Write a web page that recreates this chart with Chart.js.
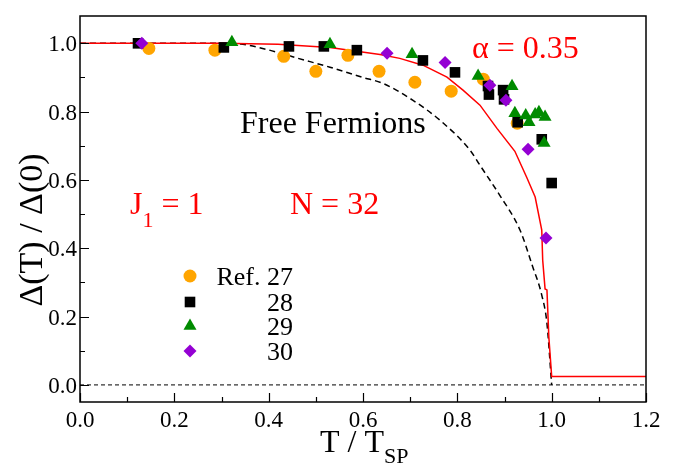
<!DOCTYPE html>
<html>
<head>
<meta charset="utf-8">
<script src="https://cdn.jsdelivr.net/npm/chart.js@4.4.1/dist/chart.umd.min.js"></script>
<style>
  body { margin: 0; background: #fff; font-family: "Liberation Serif", serif; }
  #wrap { width: 689px; height: 466px; }
  #probe { position: absolute; left: -1000px; font-family: "Liberation Serif"; }
</style>
</head>
<body>
<div id="wrap"><canvas id="myChart"></canvas></div>
<span id="probe">Δ α 0.35</span>
<script>
// alpha = 0.35 curve (red)
const alphaX = [0, 0.3, 0.42, 0.53, 0.636, 0.678, 0.727, 0.778, 0.812, 0.848, 0.884, 0.922, 0.947, 0.965, 0.979, 0.981, 0.986, 0.99, 0.994, 1.0, 1.2];
const alphaY = [1.0, 1.0, 0.997, 0.988, 0.967, 0.956, 0.936, 0.901, 0.863, 0.819, 0.751, 0.684, 0.608, 0.55, 0.453, 0.365, 0.281, 0.278, 0.14, 0.025, 0.025];

// free fermions (black dashed)
const freeX = [0, 0.3, 0.339, 0.396, 0.46, 0.53, 0.6, 0.642, 0.706, 0.763, 0.827, 0.848, 0.89, 0.933, 0.96, 0.979, 0.99, 1.0];
const freeY = [1.0, 1.0, 0.998, 0.982, 0.957, 0.93, 0.9, 0.883, 0.833, 0.775, 0.687, 0.643, 0.555, 0.453, 0.345, 0.263, 0.18, 0.0];

const zeroX = [0, 1.2];
const zeroY = [0, 0];

// Ref. 27
const ref27X = [0.146, 0.286, 0.432, 0.5, 0.568, 0.634, 0.71, 0.787, 0.855, 0.927];
const ref27Y = [0.985, 0.98, 0.962, 0.918, 0.965, 0.918, 0.886, 0.86, 0.895, 0.766];
// 28
const ref28X = [0.123, 0.305, 0.443, 0.517, 0.587, 0.727, 0.795, 0.865, 0.867, 0.897, 0.899, 0.928, 0.979, 1.0];
const ref28Y = [1.0, 0.988, 0.991, 0.991, 0.98, 0.95, 0.915, 0.875, 0.85, 0.863, 0.836, 0.769, 0.719, 0.591];
// 29
const ref29X = [0.322, 0.53, 0.704, 0.844, 0.916, 0.922, 0.945, 0.952, 0.965, 0.973, 0.986, 0.984];
const ref29Y = [1.003, 0.997, 0.968, 0.904, 0.874, 0.795, 0.789, 0.769, 0.792, 0.798, 0.784, 0.708];
// 30
const ref30X = [0.131, 0.651, 0.774, 0.869, 0.903, 0.95, 0.988];
const ref30Y = [1.0, 0.971, 0.944, 0.877, 0.833, 0.69, 0.43];

const xTicks = [0, 0.2, 0.4, 0.6, 0.8, 1.0, 1.2];
const xTickLabels = ['0.0', '0.2', '0.4', '0.6', '0.8', '1.0', '1.2'];
const yTicks = [0, 0.2, 0.4, 0.6, 0.8, 1.0];
const yTickLabels = ['0.0', '0.2', '0.4', '0.6', '0.8', '1.0'];

const legendLabels = ['Ref. 27', '28', '29', '30'];

const pts = (xs, ys) => xs.map((x, i) => ({ x: x, y: ys[i] }));

const serif = '"Liberation Serif"';
const orange = 'rgb(255,165,0)';
const green = 'rgb(0,139,0)';
const violet = 'rgb(148,0,211)';

const markers = [
    { style: 'circle', radius: 6.5, color: orange },
    { style: 'rect', radius: 7.5, color: '#000' },
    { style: 'triangle', radius: 7.5, color: green },
    { style: 'rectRot', radius: 6.5, color: violet }
];

// frame, inward ticks, tick labels and text
const decorations = {
    id: 'decorations',
    afterDraw(chart) {
        const ctx = chart.ctx;
        const a = chart.chartArea;
        const xs = chart.scales.x;
        const ys = chart.scales.y;
        ctx.save();

        ctx.strokeStyle = '#000';
        ctx.lineWidth = 1.5;
        ctx.strokeRect(a.left, a.top, a.right - a.left, a.bottom - a.top);

        ctx.lineWidth = 1.2;
        ctx.beginPath();
        for (let i = 0; i <= 12; i++) {
            const px = Math.round(xs.getPixelForValue(i / 10)) + 0.5;
            const len = i % 2 === 0 ? 9 : 5;
            ctx.moveTo(px, a.bottom);
            ctx.lineTo(px, a.bottom - len);
        }
        for (let i = 0; i <= 10; i++) {
            const py = Math.round(ys.getPixelForValue(i / 10)) + 0.5;
            const len = i % 2 === 0 ? 9 : 5;
            ctx.moveTo(a.left, py);
            ctx.lineTo(a.left + len, py);
        }
        ctx.stroke();

        ctx.fillStyle = '#000';
        ctx.font = '23px ' + serif;
        ctx.textAlign = 'center';
        ctx.textBaseline = 'alphabetic';
        xTicks.forEach((v, i) => {
            ctx.fillText(xTickLabels[i], xs.getPixelForValue(v), 427);
        });
        ctx.textAlign = 'right';
        yTicks.forEach((v, i) => {
            ctx.fillText(yTickLabels[i], 77, ys.getPixelForValue(v) + 8);
        });

        // axis titles
        ctx.textAlign = 'left';
        ctx.font = '32px ' + serif;
        ctx.fillText('T / T', 320, 452);
        const tw = ctx.measureText('T / T').width;
        ctx.font = '22px ' + serif;
        ctx.fillText('SP', 320 + tw, 463);

        ctx.save();
        ctx.translate(42, 230);
        ctx.rotate(-Math.PI / 2);
        ctx.font = '34px ' + serif;
        ctx.textAlign = 'center';
        ctx.fillText('\u0394(T) / \u0394(0)', 0, 0);
        ctx.restore();

        // annotations
        ctx.font = '32px ' + serif;
        ctx.fillText('Free Fermions', 240, 133);
        ctx.fillStyle = 'red';
        ctx.fillText('\u03b1 = 0.35', 472, 58);
        ctx.fillText('N = 32', 290, 214);
        ctx.fillText('J', 130, 214);
        const jw = ctx.measureText('J').width;
        ctx.font = '22px ' + serif;
        ctx.fillText('1', 130 + jw, 227);
        const sw = ctx.measureText('1').width;
        ctx.font = '32px ' + serif;
        ctx.fillText(' = 1', 130 + jw + sw, 214);

        // legend
        const legY = [276, 302, 326, 351];
        ctx.font = '26px ' + serif;
        ctx.textAlign = 'right';
        markers.forEach((m, i) => {
            ctx.fillStyle = m.color;
            Chart.helpers.drawPoint(ctx, { pointStyle: m.style, radius: m.radius, rotation: 0, borderWidth: 0 }, 190, legY[i]);
            ctx.fillStyle = '#000';
            ctx.fillText(legendLabels[i], 293, legY[i] + 9);
        });

        ctx.restore();
    }
};

const scatterSet = (data, m, order) => ({
    type: 'scatter',
    data: data,
    pointStyle: m.style,
    pointRadius: m.radius,
    pointHoverRadius: m.radius,
    backgroundColor: m.color,
    borderColor: m.color,
    borderWidth: 0,
    order: order
});

const config = {
    type: 'scatter',
    data: {
        datasets: [
            scatterSet(pts(ref30X, ref30Y), markers[3], 1),
            scatterSet(pts(ref29X, ref29Y), markers[2], 2),
            scatterSet(pts(ref28X, ref28Y), markers[1], 3),
            scatterSet(pts(ref27X, ref27Y), markers[0], 4),
            {
                type: 'line',
                data: pts(alphaX, alphaY),
                borderColor: 'red',
                borderWidth: 1.5,
                pointRadius: 0,
                tension: 0,
                order: 5
            },
            {
                type: 'line',
                data: pts(freeX, freeY),
                borderColor: '#000',
                borderWidth: 1.5,
                borderDash: [6, 4],
                pointRadius: 0,
                cubicInterpolationMode: 'monotone',
                order: 6
            },
            {
                type: 'line',
                data: pts(zeroX, zeroY),
                borderColor: '#000',
                borderWidth: 1,
                borderDash: [4, 3],
                pointRadius: 0,
                order: 7
            }
        ]
    },
    options: {
        responsive: true,
        maintainAspectRatio: false,
        animation: false,
        layout: {
            padding: { top: 16, right: 43, left: 0, bottom: 0 }
        },
        scales: {
            x: {
                type: 'linear',
                min: 0,
                max: 1.2,
                grid: { display: false },
                border: { display: false },
                ticks: { display: false },
                afterFit: function (s) { s.height = 64; }
            },
            y: {
                type: 'linear',
                min: -0.05,
                max: 1.08,
                grid: { display: false },
                border: { display: false },
                ticks: { display: false },
                afterFit: function (s) { s.width = 80; }
            }
        },
        plugins: {
            legend: { display: false },
            tooltip: { enabled: false }
        }
    },
    plugins: [decorations]
};

let myChart;
Promise.all([
    document.fonts.load('23px "Liberation Serif"'),
    document.fonts.load('23px "Liberation Serif"', '\u0394\u03b1')
]).catch(() => {}).then(() => {
    myChart = new Chart(document.getElementById('myChart'), config);
});
</script>
</body>
</html>
